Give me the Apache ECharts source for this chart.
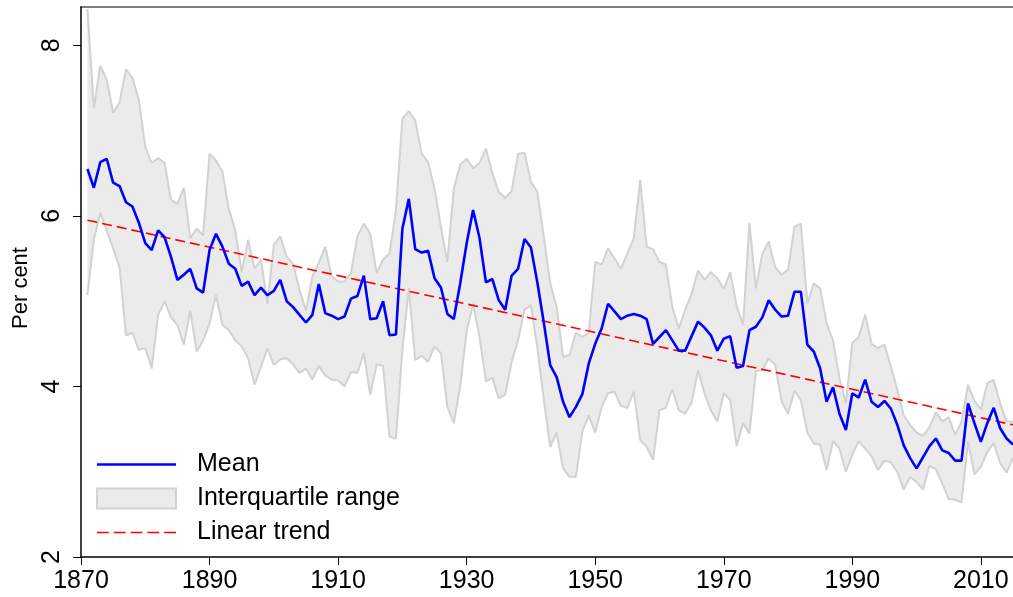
<!DOCTYPE html>
<html>
<head>
<meta charset="utf-8">
<script src="https://cdn.jsdelivr.net/npm/echarts@6/dist/echarts.min.js"></script>
<style>
html,body{margin:0;padding:0;background:#fff}
#main{width:1013px;height:597px}
</style>
</head>
<body>
<div id="main"></div>
<script>
// axis years run 1870-2015, data starts 1871
var axisFirstYear = 1870;
var axisLastYear = 2015;
var firstYear = 1871;
var meanVals = [
    6.55,6.33,6.63,6.67,6.39,6.35,6.16,6.11,5.92,5.68,
    5.60,5.83,5.75,5.52,5.25,5.31,5.38,5.15,5.10,5.60,
    5.79,5.64,5.44,5.38,5.18,5.23,5.07,5.16,5.07,5.12,
    5.25,5.00,4.93,4.84,4.75,4.84,5.20,4.86,4.83,4.79,
    4.82,5.03,5.06,5.30,4.79,4.80,5.00,4.60,4.61,5.85,
    6.20,5.61,5.57,5.59,5.27,5.16,4.85,4.79,5.21,5.68,
    6.07,5.74,5.22,5.26,5.01,4.90,5.30,5.38,5.73,5.63,
    5.22,4.75,4.25,4.11,3.82,3.64,3.76,3.91,4.27,4.50,
    4.68,4.97,4.88,4.79,4.83,4.85,4.83,4.79,4.50,4.58,
    4.66,4.54,4.42,4.42,4.59,4.76,4.69,4.60,4.42,4.56,
    4.59,4.22,4.24,4.66,4.70,4.81,5.01,4.90,4.82,4.83,
    5.11,5.11,4.49,4.41,4.21,3.82,3.99,3.68,3.49,3.92,
    3.87,4.08,3.82,3.76,3.83,3.74,3.55,3.31,3.16,3.04,
    3.17,3.30,3.39,3.25,3.22,3.13,3.13,3.80,3.57,3.35,
    3.57,3.75,3.51,3.39,3.32
];
var q75Vals = [
    8.43,7.26,7.76,7.60,7.21,7.33,7.72,7.62,7.36,6.81,
    6.62,6.68,6.62,6.19,6.14,6.33,5.74,5.85,5.77,6.73,
    6.65,6.52,6.08,5.83,5.34,5.72,5.38,5.49,4.97,5.66,
    5.76,5.52,5.44,5.13,4.89,5.29,5.45,5.64,5.29,5.23,
    5.23,5.33,5.76,5.91,5.79,5.33,5.49,5.56,6.07,7.14,
    7.23,7.12,6.73,6.63,6.32,5.87,5.46,6.32,6.60,6.67,
    6.56,6.62,6.79,6.50,6.28,6.21,6.29,6.73,6.74,6.40,
    6.28,5.76,5.21,4.93,4.35,4.37,4.63,4.58,4.63,5.46,
    5.43,5.62,5.50,5.38,5.56,5.74,6.42,5.64,5.61,5.46,
    5.43,4.93,4.68,4.90,5.09,5.36,5.25,5.34,5.27,5.14,
    5.34,4.95,4.72,5.92,5.15,5.56,5.70,5.40,5.31,5.37,
    5.87,5.91,4.97,5.21,5.15,4.74,4.54,4.10,3.80,4.51,
    4.58,4.84,4.50,4.45,4.49,4.23,3.96,3.66,3.55,3.46,
    3.42,3.52,3.70,3.59,3.64,3.43,3.59,4.02,3.83,3.73,
    4.04,4.08,3.80,3.59,3.59
];
var q25Vals = [
    5.07,5.72,6.04,5.83,5.62,5.40,4.60,4.63,4.43,4.45,
    4.21,4.84,5.00,4.81,4.72,4.49,4.89,4.41,4.54,4.74,
    5.07,4.72,4.66,4.54,4.47,4.33,4.02,4.23,4.45,4.25,
    4.32,4.33,4.26,4.16,4.21,4.08,4.24,4.13,4.08,4.07,
    4.00,4.17,4.16,4.39,3.90,4.26,4.24,3.41,3.39,4.43,
    5.15,4.31,4.36,4.29,4.47,4.39,3.76,3.57,4.00,4.65,
    4.97,4.58,4.06,4.10,3.86,3.90,4.29,4.54,4.90,4.95,
    4.45,3.85,3.29,3.46,3.04,2.94,2.94,3.47,3.66,3.46,
    3.76,3.92,3.94,3.77,3.75,3.94,3.37,3.29,3.14,3.72,
    3.75,3.97,3.72,3.68,3.81,4.19,3.92,3.72,3.59,3.92,
    3.84,3.30,3.57,3.45,4.18,4.19,4.33,4.25,3.82,3.68,
    3.95,3.84,3.46,3.33,3.32,3.02,3.36,3.27,3.00,3.20,
    3.36,3.27,3.18,3.02,3.13,3.11,3.00,2.79,2.94,2.88,
    2.79,3.07,3.03,2.86,2.68,2.67,2.64,3.36,2.97,3.06,
    3.23,3.34,3.10,2.99,3.16
];
// linear trend end points
var trendYears = [1871, 2015];
var trendVals = [5.95, 3.55];
// tick labels
var xTicks = [1870, 1890, 1910, 1930, 1950, 1970, 1990, 2010];
var yTicks = [2, 4, 6, 8];

var font = 'Liberation Sans, Arial, sans-serif';

var years = [];
for (var y = axisFirstYear; y <= axisLastYear; y++) {
    years.push(String(y));
}
// put a series on the year axis, null where there is no value
function onAxis(vals) {
    var out = [];
    for (var i = 0; i < years.length; i++) {
        var k = Number(years[i]) - firstYear;
        out.push(k >= 0 && k < vals.length ? vals[k] : null);
    }
    return out;
}
var bandHeight = [];
for (var i = 0; i < q75Vals.length; i++) {
    bandHeight.push(+(q75Vals[i] - q25Vals[i]).toFixed(2));
}
var trendData = [];
for (var j = 0; j < years.length; j++) {
    var p = trendYears.indexOf(Number(years[j]));
    trendData.push(p >= 0 ? trendVals[p] : null);
}
function isTick(index, value) {
    return xTicks.indexOf(Number(value)) >= 0;
}

// legend icons (line samples)
var solidIcon = 'path://M0,0M0,20M0,8.7L79,8.7L79,11.3L0,11.3Z';
var dashIcon = 'path://M0,0M0,20' +
    'M0,9.2L11.8,9.2L11.8,10.8L0,10.8Z' +
    'M16.8,9.2L28.6,9.2L28.6,10.8L16.8,10.8Z' +
    'M33.6,9.2L45.4,9.2L45.4,10.8L33.6,10.8Z' +
    'M50.4,9.2L62.2,9.2L62.2,10.8L50.4,10.8Z' +
    'M67.2,9.2L79,9.2L79,10.8L67.2,10.8Z';

var bandEdge = {color: '#d2d2d2', width: 2};

var option = {
    animation: false,
    backgroundColor: '#fff',
    textStyle: {fontFamily: font},
    grid: {left: 81, right: 0, top: 7, bottom: 40},
    legend: {
        orient: 'vertical',
        left: 91,
        top: 447,
        itemWidth: 79,
        itemHeight: 20,
        itemGap: 9,
        textStyle: {fontSize: 25, color: '#000', fontFamily: font, padding: [0, 0, 0, 16]},
        data: [
            {name: 'Mean', icon: solidIcon, itemStyle: {color: '#0000ff', borderWidth: 0}},
            {name: 'Interquartile range', icon: 'rect',
                itemStyle: {color: '#ebebeb', borderColor: '#d2d2d2', borderWidth: 2}},
            {name: 'Linear trend', icon: dashIcon, itemStyle: {color: '#ff0000', borderWidth: 0}}
        ]
    },
    xAxis: [
        {
            type: 'category',
            data: years,
            boundaryGap: false,
            z: 5,
            axisLine: {show: true, lineStyle: {color: '#000', width: 1.5}},
            axisTick: {show: true, length: 8, interval: isTick, lineStyle: {color: '#000'}},
            axisLabel: {interval: isTick, fontSize: 25, color: '#000', margin: 12, fontFamily: font},
            splitLine: {show: false}
        },
        {
            type: 'category',
            data: years,
            boundaryGap: false,
            position: 'top',
            axisLine: {show: true, lineStyle: {color: '#555', width: 1.5}},
            axisTick: {show: false},
            axisLabel: {show: false},
            splitLine: {show: false}
        }
    ],
    yAxis: {
        type: 'value',
        min: 2,
        max: 8.45,
        name: 'Per cent',
        nameLocation: 'middle',
        nameGap: 37,
        nameTextStyle: {fontSize: 22, color: '#000', fontFamily: font, padding: [0, 12, 0, 0]},
        z: 5,
        axisLine: {show: true, lineStyle: {color: '#000', width: 1.5}},
        axisTick: {show: true, length: 8, customValues: yTicks, lineStyle: {color: '#000'}},
        axisLabel: {customValues: yTicks, rotate: 90, fontSize: 25, color: '#000', margin: 16, fontFamily: font},
        splitLine: {show: false}
    },
    series: [
        {
            name: 'q25',
            type: 'line',
            stack: 'iqr',
            symbol: 'none',
            lineStyle: bandEdge,
            z: 1,
            data: onAxis(q25Vals)
        },
        {
            name: 'Interquartile range',
            type: 'line',
            stack: 'iqr',
            symbol: 'none',
            lineStyle: bandEdge,
            itemStyle: {color: '#ebebeb'},
            areaStyle: {color: '#ebebeb', opacity: 1},
            z: 1,
            data: onAxis(bandHeight)
        },
        {
            name: 'Linear trend',
            type: 'line',
            symbol: 'none',
            connectNulls: true,
            itemStyle: {color: '#ff0000'},
            lineStyle: {color: '#ff0000', width: 1.6, type: [10, 5]},
            z: 3,
            data: trendData
        },
        {
            name: 'Mean',
            type: 'line',
            symbol: 'none',
            itemStyle: {color: '#0000ff'},
            lineStyle: {color: '#0000ff', width: 2.6},
            z: 4,
            data: onAxis(meanVals)
        }
    ]
};

var myChart = echarts.init(document.getElementById('main'));
myChart.setOption(option);
</script>
</body>
</html>
